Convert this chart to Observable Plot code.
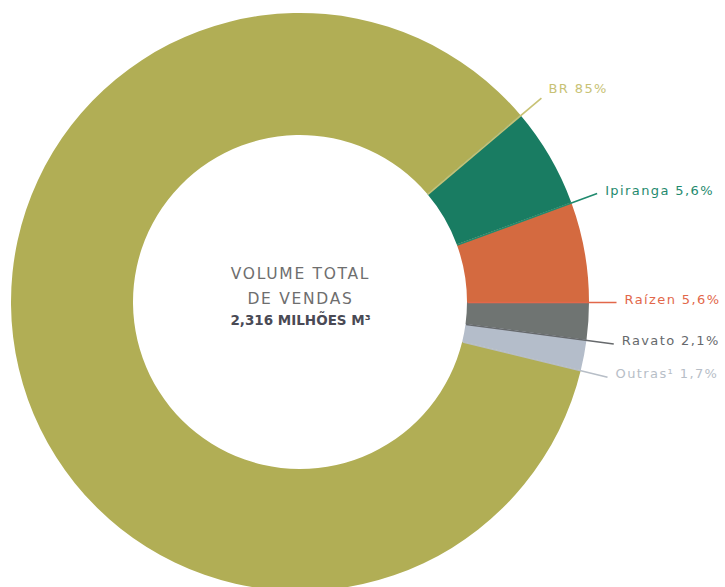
<!DOCTYPE html>
<html><head><meta charset="utf-8">
<script src="https://cdn.jsdelivr.net/npm/d3@7"></script>
<script src="https://cdn.jsdelivr.net/npm/@observablehq/plot@0.6"></script>
<style>body{margin:0;background:#fff}#chart{width:725px;height:587px}</style>
</head><body><div id="chart"></div>
<script>
const companies = ["BR", "Ipiranga", "Raízen", "Ravato", "Outras¹"];
const shares = [85, 5.6, 5.6, 2.1, 1.7];
const shareLabels = ["85%", "5,6%", "5,6%", "2,1%", "1,7%"];
const sliceColors = ["#b1ae55", "#197c62", "#d46a40", "#6f7472", "#b4bdca"];
const labelColors = ["#c8c275", "#1f8a6e", "#e2674a", "#66696c", "#b7bec7"];
const centerLines = ["VOLUME TOTAL", "DE VENDAS"];
const centerTotal = ["2,316 MILHÕES M³"];

const W = 725, H = 587;
const cx = 300, cy = 302;
const R = 289, r = 167, Rl = 316;
const total = d3.sum(shares);
// boundary after Raízen sits at 3 o'clock
const start = Math.PI / 2 + 2 * Math.PI * d3.sum(shares.slice(3)) / total;
const table = companies.map((c, i) => ({company: c, share: shares[i], label: `${c} ${shareLabels[i]}`, color: sliceColors[i], lc: labelColors[i]}));
const arcs = d3.pie().sort(null).value(d => d.share).startAngle(start).endAngle(start + 2 * Math.PI)(table);
const leaders = arcs.map(a => ({
  ...a.data,
  x1: r * Math.sin(a.endAngle), y1: -r * Math.cos(a.endAngle),
  x2: Rl * Math.sin(a.endAngle), y2: -Rl * Math.cos(a.endAngle)
}));

function donut(index, scales) {
  const sx = scales.x, sy = scales.y;
  const ox = sx(0), oy = sy(0), k = sx(1) - sx(0);
  const arc = d3.arc().innerRadius(r * k).outerRadius(R * k);
  const g = d3.create("svg:g").attr("transform", `translate(${ox},${oy})`);
  g.selectAll("path").data(arcs).join("path").attr("d", arc).attr("fill", d => d.data.color);
  return g.node();
}

const plot = Plot.plot({
  width: W, height: H,
  margin: 0,
  x: {domain: [-cx, W - cx], range: [0, W], axis: null},
  y: {domain: [-cy, H - cy], range: [0, H], axis: null},
  style: {fontFamily: "DejaVu Sans", background: "#fff"},
  marks: [
    donut,
    Plot.link(leaders, {x1: "x1", y1: "y1", x2: "x2", y2: "y2", stroke: d => d.lc, strokeWidth: 1.6}),
    Plot.text(leaders.filter(d => d.company === "BR"), {x: "x2", y: "y2", text: "label", fill: d => d.lc, textAnchor: "start", dx: 7, dy: -9, fontSize: 13}),
    Plot.text(leaders.filter(d => d.company !== "BR"), {x: "x2", y: "y2", text: "label", fill: d => d.lc, textAnchor: "start", dx: 8, dy: -3, fontSize: 13}),
    Plot.text([centerLines.join("\n")], {x: 0, y: 0, text: d => d, dy: -19, lineHeight: 1.6, fill: "#6e6e6e", fontSize: 15.5}),
    Plot.text(centerTotal, {x: 0, y: 0, text: d => d, dy: 18, fill: "#4a4a55", fontSize: 13.5, fontWeight: "bold"})
  ]
});
plot.querySelectorAll('g[aria-label="text"]').forEach((g, i) => {
  if (i < 2) g.setAttribute("letter-spacing", "1.4");
  else if (i === 2) g.setAttribute("letter-spacing", "1.7");
});
document.getElementById("chart").appendChild(plot);
</script>
</body></html>
